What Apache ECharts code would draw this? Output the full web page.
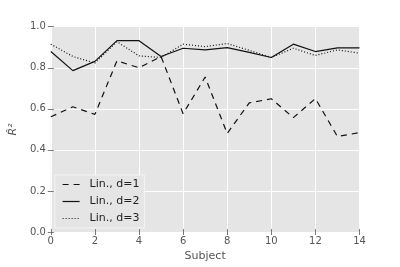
<!DOCTYPE html>
<html><head><meta charset="utf-8">
<script src="https://cdn.jsdelivr.net/npm/echarts@6/dist/echarts.min.js"></script>
<style>html,body{margin:0;padding:0;background:#fff}#c{width:400px;height:267px}</style>
</head><body><div id="c"></div>
<script>
var subjects = [0,1,2,3,4,5,6,7,8,9,10,11,12,13,14];
var lin1 = [0.561,0.610,0.573,0.834,0.800,0.855,0.576,0.755,0.480,0.629,0.649,0.557,0.650,0.465,0.484];
var lin2 = [0.879,0.786,0.831,0.932,0.932,0.855,0.895,0.887,0.898,0.875,0.850,0.915,0.879,0.897,0.897];
var lin3 = [0.915,0.855,0.823,0.927,0.858,0.850,0.915,0.903,0.918,0.885,0.850,0.895,0.860,0.887,0.871];
var seriesNames = ['Lin., d=1','Lin., d=2','Lin., d=3'];

function pts(arr){ return subjects.map(function(s,i){ return [s, arr[i]]; }); }
var font = 'DejaVu Sans';
var chart = echarts.init(document.getElementById('c'), null, {renderer:'canvas'});
var tickStyle = {show:true, inside:false, length:3, lineStyle:{color:'#555', width:0.8}};
chart.setOption({
  animation:false,
  backgroundColor:'#fff',
  grid:{left:50, right:40.5, top:26.7, bottom:33.7, show:true, backgroundColor:'#e5e5e5', borderWidth:0},
  legend:{
    left:55, top:175, orient:'vertical', itemGap:6, itemWidth:17, itemHeight:10,
    backgroundColor:'#e5e5e5', borderColor:'#f4f4f4', borderWidth:1, borderRadius:0,
    padding:[4,5,4,7],
    itemStyle:{opacity:0},
    lineStyle:{opacity:1, width:1.2},
    textStyle:{fontFamily:font, fontSize:11, color:'#222', padding:[0,0,0,5]},
    data:seriesNames
  },
  xAxis:[{
    type:'value', min:0, max:14, interval:2,
    name:'Subject', nameLocation:'middle', nameGap:19,
    nameTextStyle:{fontFamily:font, fontSize:11, color:'#555'},
    axisLine:{show:false}, axisTick:tickStyle,
    axisLabel:{fontFamily:font, fontSize:10, color:'#555', margin:4},
    splitLine:{show:true, lineStyle:{color:'#fff', width:1}}
  },{
    type:'value', min:0, max:14, interval:2, position:'top',
    axisLine:{show:false}, axisTick:tickStyle, axisLabel:{show:false}, splitLine:{show:false}
  }],
  yAxis:[{
    type:'value', min:0, max:1, interval:0.2,
    name:'R\u0302\u00b2', nameLocation:'middle', nameGap:20, nameRotate:90,
    nameTextStyle:{fontFamily:font, fontSize:11, color:'#555', fontStyle:'italic'},
    axisLine:{show:false}, axisTick:tickStyle,
    axisLabel:{fontFamily:font, fontSize:10, color:'#555', margin:5, formatter:function(v){return v.toFixed(1);}},
    splitLine:{show:true, lineStyle:{color:'#fff', width:1}}
  },{
    type:'value', min:0, max:1, interval:0.2, position:'right',
    axisLine:{show:false}, axisTick:tickStyle, axisLabel:{show:false}, splitLine:{show:false}
  }],
  series:[
    {name:seriesNames[0], type:'line', data:pts(lin1), symbol:'none', lineStyle:{color:'#111', width:1.2, type:[6,5]}, itemStyle:{color:'#111'}},
    {name:seriesNames[1], type:'line', data:pts(lin2), symbol:'none', lineStyle:{color:'#111', width:1.2, type:'solid'}, itemStyle:{color:'#111'}},
    {name:seriesNames[2], type:'line', data:pts(lin3), symbol:'none', lineStyle:{color:'#111', width:1.2, type:[1,2]}, itemStyle:{color:'#111'}}
  ]
});
</script></body></html>
